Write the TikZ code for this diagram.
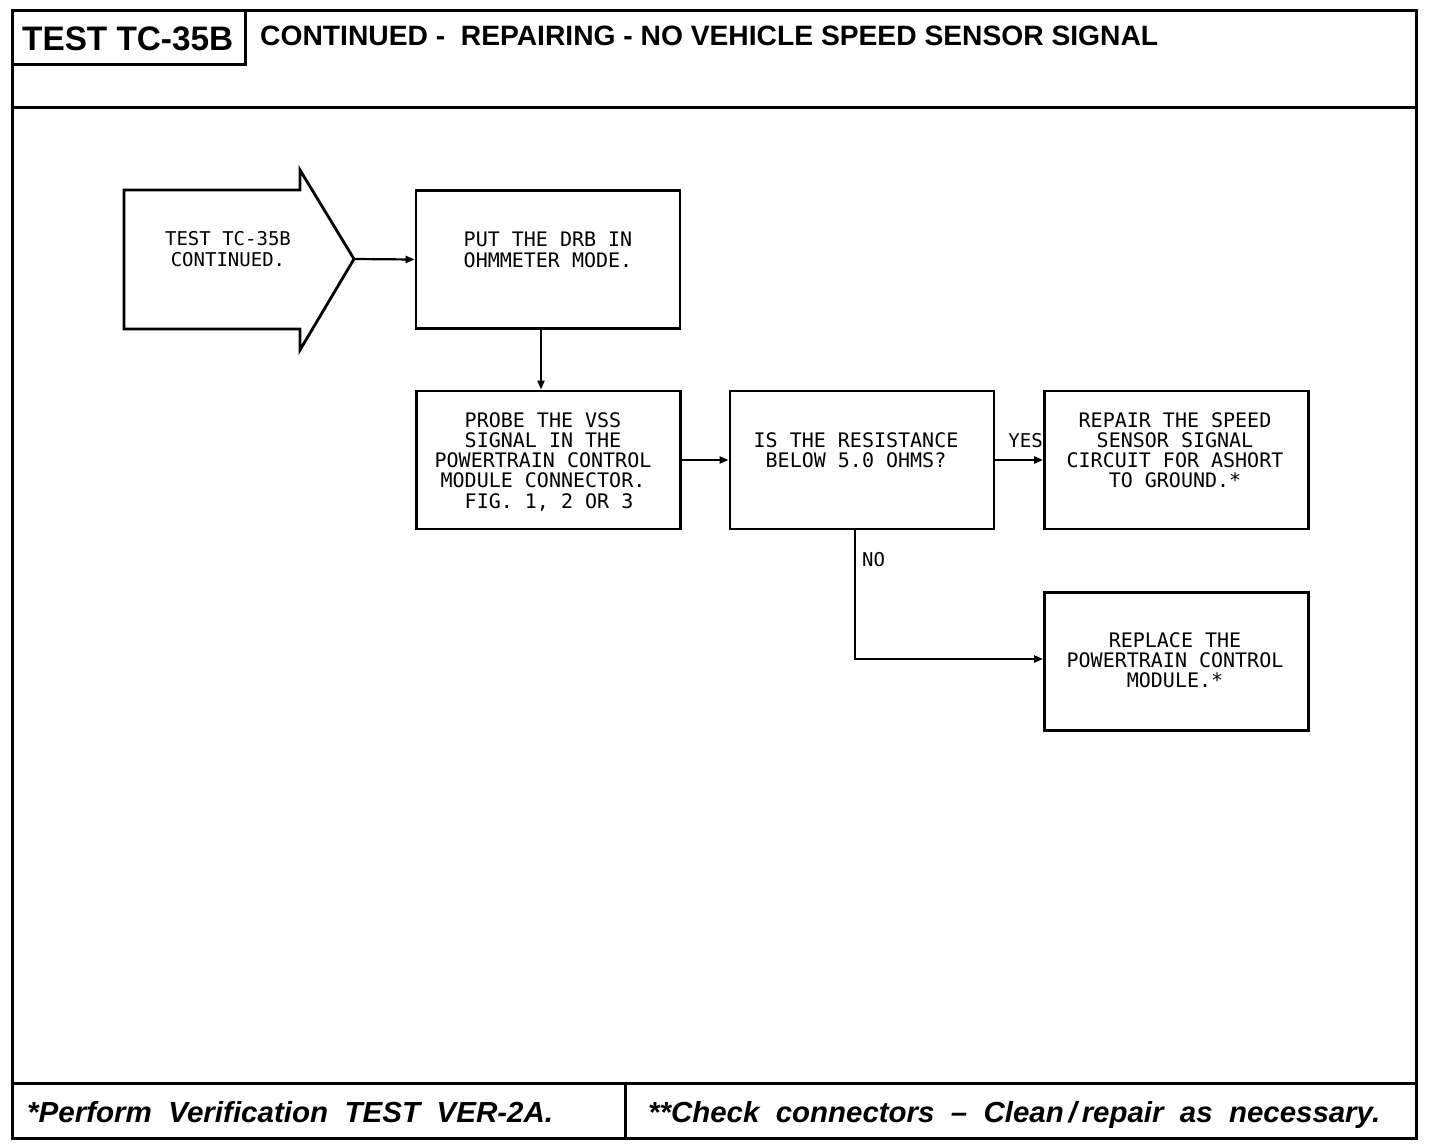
\documentclass[tikz,border=0pt]{standalone}
\usepackage{graphicx}
\usepackage{fontspec}
\setmainfont{Liberation Sans}
\newfontfamily\plotfont{DejaVu Sans Mono}
\usetikzlibrary{arrows.meta}
\tikzset{
  frameline/.style={line width=3pt},
  stepbox/.style={draw, line width=2.8pt, inner sep=0pt, minimum width=264pt, minimum height=138pt},
  boxtext/.style={inner sep=0pt, anchor=north, align=center, font=\plotfont\fontsize{20}{20.3}\selectfont},
  conn/.style={line width=2.2pt, -{Triangle[length=9pt,width=7pt]}},
  lbl/.style={inner sep=0pt, font=\plotfont\fontsize{19}{19}\selectfont},
  headtext/.style={inner sep=0pt, anchor=base west, font=\bfseries},
  foottext/.style={inner sep=0pt, anchor=base west, font=\bfseries\itshape}
}
\begin{document}
\begin{tikzpicture}[x=1pt,y=-1pt]
\useasboundingbox (0,0) rectangle (1440,1146);
\fill[white] (0,0) rectangle (1440,1146);
% frame
\draw[frameline] (12,10) rectangle (1416,1138);
\draw[frameline] (12,107) -- (1416,107);
\draw[frameline] (12,64) -- (245,64) -- (245,10);
\draw[frameline] (12,1083) -- (1416,1083);
\draw[frameline] (625,1083) -- (625,1138);
% header
\node[headtext] (ttl) at (22,50) {\resizebox{211pt}{\height}{\fontsize{34}{34}\selectfont TEST TC-35B}};
\node[headtext] (head) at (260,45) {\resizebox{898pt}{\height}{\fontsize{28}{28}\selectfont CONTINUED -\ \ REPAIRING - NO VEHICLE SPEED SENSOR SIGNAL}};
% footer
\node[foottext] (f1) at (27,1122) {\resizebox{526pt}{\height}{\fontsize{29}{29}\selectfont *Perform\ \ Verification\ \ TEST\ \ VER-2A.}};
\node[foottext] (f2) at (648,1122) {\resizebox{732pt}{\height}{\fontsize{29}{29}\selectfont **Check\ \ connectors\ \ --\ \ Clean\,/\,repair\ \ as\ \ necessary.}};
% entry arrow
\draw[line width=2.8pt, line join=miter] (124,190) -- (300,190) -- (300,170) -- (354,259) -- (300,350) -- (300,329) -- (124,329) -- cycle;
\coordinate (tip) at (354,259);
\node[boxtext, font=\plotfont\fontsize{19}{21}\selectfont] (t0) at (228,231) {TEST TC-35B\\CONTINUED.};
% boxes
\node[stepbox] (b1) at (548,259.5) {};
\node[stepbox] (b2) at (548.5,460) {};
\node[stepbox] (b3) at (862,460) {};
\node[stepbox] (b4) at (1176.5,460) {};
\node[stepbox] (b5) at (1176.5,661.5) {};
\node[boxtext] (t1) at (548,232) {PUT THE DRB IN\\OHMMETER MODE.};
\node[boxtext] (t2) at (543,412) {PROBE THE VSS\\SIGNAL IN THE\\POWERTRAIN CONTROL\\MODULE CONNECTOR.\\\ FIG. 1, 2 OR 3};
\node[boxtext] (t3) at (856,432) {IS THE RESISTANCE\\BELOW 5.0 OHMS?};
\node[boxtext] (t4) at (1175,412) {REPAIR THE SPEED\\SENSOR SIGNAL \\CIRCUIT FOR ASHORT\\TO GROUND.*};
\node[boxtext] (t5) at (1175,632) {REPLACE THE\\POWERTRAIN CONTROL\\MODULE.*};
% connectors
\draw[conn] (tip) -- (b1.west);
\coordinate (down) at (541,360);
\draw[conn] (b1.south -| down) -- (b2.north -| down);
\draw[conn] (b2.east) -- (b3.west);
\draw[conn] (b3.east) -- (b4.west);
\coordinate (nobend) at (855,659);
\draw[conn] (b3.south -| nobend) -- (nobend) -- (b5.west |- nobend);
\node[lbl, anchor=base east] (yes) at (1043,447) {YES};
\node[lbl, anchor=base west] (no) at (862,566) {NO};
\end{tikzpicture}
\end{document}
